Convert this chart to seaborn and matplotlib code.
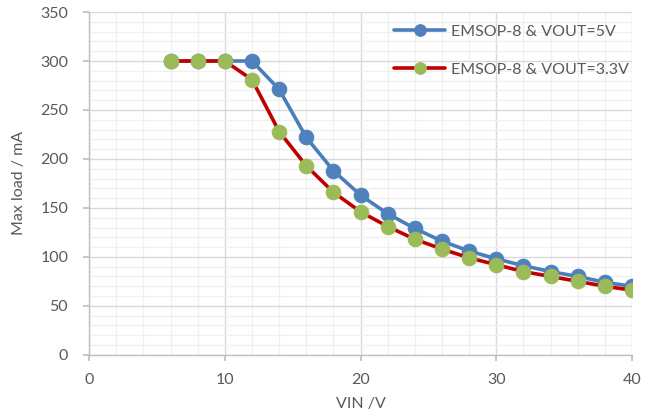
import numpy as np
import pandas as pd
import matplotlib
matplotlib.use("Agg")
import matplotlib.pyplot as plt
import seaborn as sns
from matplotlib.ticker import MultipleLocator

vin = [6, 8, 10, 12, 14, 16, 18, 20, 22, 24, 26, 28, 30, 32, 34, 36, 38, 40]
load_5v = [300, 300, 300, 300, 271, 222, 188, 163, 144, 129, 116, 106, 98, 91, 85, 80, 74, 70]
load_33v = [300, 300, 300, 281, 228, 193, 166, 146, 131, 118, 108, 99, 92, 85, 80, 75, 70, 66]
labels = ["EMSOP-8 & VOUT=5V", "EMSOP-8 & VOUT=3.3V"]

df = pd.DataFrame({
    "VIN": vin * 2,
    "load": load_5v + load_33v,
    "series": [labels[0]] * len(vin) + [labels[1]] * len(vin),
})

sns.set_theme(style="white")
plt.rcParams["font.family"] = ["Lato", "DejaVu Sans"]

fig = plt.figure(figsize=(6.55, 4.15), dpi=100)
ax = fig.add_axes([0.136, 0.145, 0.829, 0.826])

line_colors = {labels[0]: "#4A7EBB", labels[1]: "#C00000"}
marker_colors = {labels[0]: "#4F81BD", labels[1]: "#9BBB59"}

for lab in labels:
    sub = df[df["series"] == lab]
    sns.lineplot(data=sub, x="VIN", y="load", ax=ax, color=line_colors[lab],
                 linewidth=2.6, marker="o", markersize=10.5,
                 markerfacecolor=marker_colors[lab], markeredgecolor=marker_colors[lab],
                 label=lab, zorder=3)

ax.set_xlim(0, 40)
ax.set_ylim(0, 350)
ax.xaxis.set_major_locator(MultipleLocator(10))
ax.xaxis.set_minor_locator(MultipleLocator(2))
ax.yaxis.set_major_locator(MultipleLocator(50))
ax.yaxis.set_minor_locator(MultipleLocator(10))
ax.grid(which="major", color="#D9D9D9", linewidth=1.0)
ax.grid(which="minor", color="#F0F0F0", linewidth=1.0)
ax.set_axisbelow(True)

for s in ["top", "right"]:
    ax.spines[s].set_visible(False)
for s in ["left", "bottom"]:
    ax.spines[s].set_color("#BFBFBF")
    ax.spines[s].set_linewidth(1.0)
ax.tick_params(which="major", length=4, color="#BFBFBF", labelsize=11.5,
               labelcolor="#595959", bottom=True, left=True)
ax.tick_params(axis="x", pad=9)
ax.tick_params(axis="y", pad=11)
ax.tick_params(which="minor", length=0)

ax.set_xlabel("VIN /V", fontsize=11.5, color="#595959", labelpad=7)
ax.set_ylabel("Max load / mA", fontsize=11.5, color="#595959", labelpad=10)

leg = ax.legend(loc="upper left", bbox_to_anchor=(0.535, 1.005), frameon=False,
                fontsize=11.5, handlelength=3.2, labelspacing=1.5, handletextpad=0.35,
                markerscale=0.8)
for t in leg.get_texts():
    t.set_color("#595959")

fig.savefig("out.png", dpi=100)
